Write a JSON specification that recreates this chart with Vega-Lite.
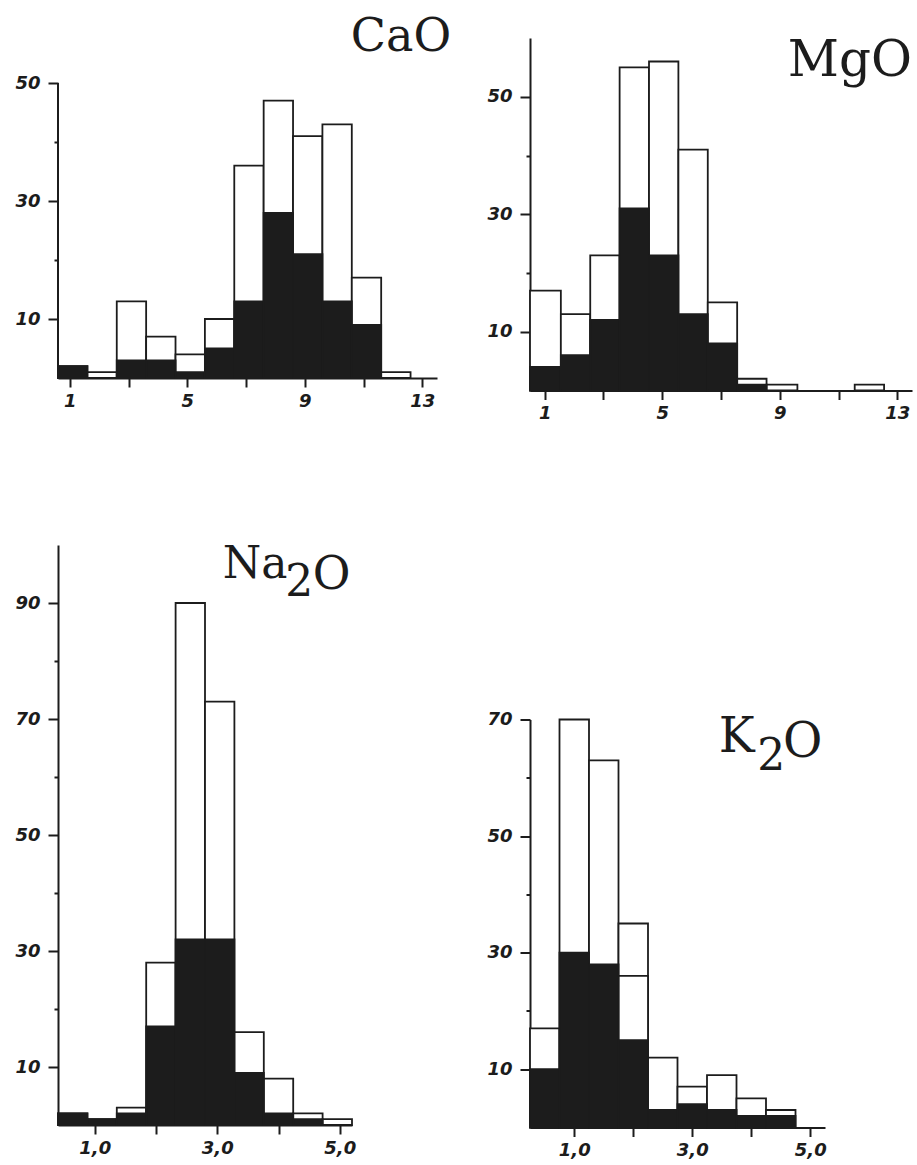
{
  "$schema": "https://vega.github.io/schema/vega-lite/v6.json",
  "background": "white",
  "padding": {"left": 14, "top": 13, "right": 5, "bottom": 5},
  "datasets": {
    "cao": [
      {"lo": 0.6, "hi": 1.6, "n": 2, "part": "all"},
      {"lo": 1.6, "hi": 2.6, "n": 1, "part": "all"},
      {"lo": 2.6, "hi": 3.6, "n": 13, "part": "all"},
      {"lo": 3.6, "hi": 4.6, "n": 7, "part": "all"},
      {"lo": 4.6, "hi": 5.6, "n": 4, "part": "all"},
      {"lo": 5.6, "hi": 6.6, "n": 10, "part": "all"},
      {"lo": 6.6, "hi": 7.6, "n": 36, "part": "all"},
      {"lo": 7.6, "hi": 8.6, "n": 47, "part": "all"},
      {"lo": 8.6, "hi": 9.6, "n": 41, "part": "all"},
      {"lo": 9.6, "hi": 10.6, "n": 43, "part": "all"},
      {"lo": 10.6, "hi": 11.6, "n": 17, "part": "all"},
      {"lo": 11.6, "hi": 12.6, "n": 1, "part": "all"},
      {"lo": 0.6, "hi": 1.6, "n": 2, "part": "black"},
      {"lo": 2.6, "hi": 3.6, "n": 3, "part": "black"},
      {"lo": 3.6, "hi": 4.6, "n": 3, "part": "black"},
      {"lo": 4.6, "hi": 5.6, "n": 1, "part": "black"},
      {"lo": 5.6, "hi": 6.6, "n": 5, "part": "black"},
      {"lo": 6.6, "hi": 7.6, "n": 13, "part": "black"},
      {"lo": 7.6, "hi": 8.6, "n": 28, "part": "black"},
      {"lo": 8.6, "hi": 9.6, "n": 21, "part": "black"},
      {"lo": 9.6, "hi": 10.6, "n": 13, "part": "black"},
      {"lo": 10.6, "hi": 11.6, "n": 9, "part": "black"}
    ],
    "mgo": [
      {"lo": 0.5, "hi": 1.55, "n": 17, "part": "all"},
      {"lo": 1.55, "hi": 2.55, "n": 13, "part": "all"},
      {"lo": 2.55, "hi": 3.55, "n": 23, "part": "all"},
      {"lo": 3.55, "hi": 4.55, "n": 55, "part": "all"},
      {"lo": 4.55, "hi": 5.55, "n": 56, "part": "all"},
      {"lo": 5.55, "hi": 6.55, "n": 41, "part": "all"},
      {"lo": 6.55, "hi": 7.55, "n": 15, "part": "all"},
      {"lo": 7.55, "hi": 8.55, "n": 2, "part": "all"},
      {"lo": 8.55, "hi": 9.6, "n": 1, "part": "all"},
      {"lo": 11.55, "hi": 12.55, "n": 1, "part": "all"},
      {"lo": 0.5, "hi": 1.55, "n": 4, "part": "black"},
      {"lo": 1.55, "hi": 2.55, "n": 6, "part": "black"},
      {"lo": 2.55, "hi": 3.55, "n": 12, "part": "black"},
      {"lo": 3.55, "hi": 4.55, "n": 31, "part": "black"},
      {"lo": 4.55, "hi": 5.55, "n": 23, "part": "black"},
      {"lo": 5.55, "hi": 6.55, "n": 13, "part": "black"},
      {"lo": 6.55, "hi": 7.55, "n": 8, "part": "black"},
      {"lo": 7.55, "hi": 8.55, "n": 1, "part": "black"}
    ],
    "na2o": [
      {"lo": 0.4, "hi": 0.88, "n": 2, "part": "all"},
      {"lo": 0.88, "hi": 1.36, "n": 1, "part": "all"},
      {"lo": 1.36, "hi": 1.84, "n": 3, "part": "all"},
      {"lo": 1.84, "hi": 2.32, "n": 28, "part": "all"},
      {"lo": 2.32, "hi": 2.8, "n": 90, "part": "all"},
      {"lo": 2.8, "hi": 3.28, "n": 73, "part": "all"},
      {"lo": 3.28, "hi": 3.76, "n": 16, "part": "all"},
      {"lo": 3.76, "hi": 4.24, "n": 8, "part": "all"},
      {"lo": 4.24, "hi": 4.72, "n": 2, "part": "all"},
      {"lo": 4.72, "hi": 5.2, "n": 1, "part": "all"},
      {"lo": 0.4, "hi": 0.88, "n": 2, "part": "black"},
      {"lo": 0.88, "hi": 1.36, "n": 1, "part": "black"},
      {"lo": 1.36, "hi": 1.84, "n": 2, "part": "black"},
      {"lo": 1.84, "hi": 2.32, "n": 17, "part": "black"},
      {"lo": 2.32, "hi": 2.8, "n": 32, "part": "black"},
      {"lo": 2.8, "hi": 3.28, "n": 32, "part": "black"},
      {"lo": 3.28, "hi": 3.76, "n": 9, "part": "black"},
      {"lo": 3.76, "hi": 4.24, "n": 2, "part": "black"},
      {"lo": 4.24, "hi": 4.72, "n": 1, "part": "black"}
    ],
    "k2o": [
      {"lo": 0.25, "hi": 0.75, "n": 17, "part": "all"},
      {"lo": 0.75, "hi": 1.25, "n": 70, "part": "all"},
      {"lo": 1.25, "hi": 1.75, "n": 63, "part": "all"},
      {"lo": 1.75, "hi": 2.25, "n": 35, "part": "all"},
      {"lo": 2.25, "hi": 2.75, "n": 12, "part": "all"},
      {"lo": 2.75, "hi": 3.25, "n": 7, "part": "all"},
      {"lo": 3.25, "hi": 3.75, "n": 9, "part": "all"},
      {"lo": 3.75, "hi": 4.25, "n": 5, "part": "all"},
      {"lo": 4.25, "hi": 4.75, "n": 3, "part": "all"},
      {"lo": 1.75, "hi": 2.25, "n": 26, "part": "inner"},
      {"lo": 0.25, "hi": 0.75, "n": 10, "part": "black"},
      {"lo": 0.75, "hi": 1.25, "n": 30, "part": "black"},
      {"lo": 1.25, "hi": 1.75, "n": 28, "part": "black"},
      {"lo": 1.75, "hi": 2.25, "n": 15, "part": "black"},
      {"lo": 2.25, "hi": 2.75, "n": 3, "part": "black"},
      {"lo": 2.75, "hi": 3.25, "n": 4, "part": "black"},
      {"lo": 3.25, "hi": 3.75, "n": 3, "part": "black"},
      {"lo": 3.75, "hi": 4.25, "n": 2, "part": "black"},
      {"lo": 4.25, "hi": 4.75, "n": 2, "part": "black"}
    ]
  },
  "hconcat": [
    {
      "spacing": 133,
      "vconcat": [
        {
          "width": 379,
          "height": 340,
          "layer": [
            {
              "data": {"name": "cao"},
              "mark": {"type": "rect", "stroke": "#1c1c1c", "strokeWidth": 1.8},
              "encoding": {
                "x": {"field": "lo", "type": "quantitative", "scale": {"domain": [0.6, 13.5], "nice": false, "zero": false},
                  "axis": {"title": null, "values": [1, 3, 5, 7, 9, 11, 13], "labelExpr": "datum.value % 4 == 1 ? datum.label : ''", "tickSize": 9, "labelPadding": 5}},
                "x2": {"field": "hi"},
                "y": {"field": "n", "type": "quantitative", "scale": {"domain": [0, 57.63], "nice": false},
                  "axis": {"title": null, "domain": false, "values": [10, 20, 30, 40, 50], "labelExpr": "datum.value % 20 == 10 ? datum.label : ''", "tickSize": {"condition": {"test": "datum.value % 20 == 0", "value": 4}, "value": 10}, "labelPadding": 8}},
                "y2": {"datum": 0},
                "fill": {"field": "part", "type": "nominal", "scale": {"domain": ["all", "inner", "black"], "range": ["#ffffff", "#ffffff", "#1c1c1c"]}, "legend": null}
              }
            },
            {
              "data": {"values": [{}]},
              "mark": {"type": "rule", "strokeWidth": 2, "color": "#1c1c1c"},
              "encoding": {
                "x": {"datum": 0.6, "type": "quantitative", "scale": {"domain": [0.6, 13.5], "nice": false, "zero": false}},
                "y": {"datum": 0, "type": "quantitative", "scale": {"domain": [0, 57.63], "nice": false}},
                "y2": {"datum": 50}
              }
            },
            {
              "data": {"values": [{}]},
              "mark": {"type": "text", "text": "CaO", "font": "DejaVu Serif", "fontSize": 46, "align": "right", "baseline": "alphabetic", "color": "#1c1c1c"},
              "encoding": {
                "x": {"datum": 13.98, "type": "quantitative", "scale": {"domain": [0.6, 13.5], "nice": false, "zero": false}},
                "y": {"datum": 55.43, "type": "quantitative", "scale": {"domain": [0, 57.63], "nice": false}}
              }
            }
          ]
        },
        {
          "width": 294,
          "height": 580,
          "layer": [
            {
              "data": {"name": "na2o"},
              "mark": {"type": "rect", "stroke": "#1c1c1c", "strokeWidth": 1.8},
              "encoding": {
                "x": {"field": "lo", "type": "quantitative", "scale": {"domain": [0.4, 5.2], "nice": false, "zero": false},
                  "axis": {"title": null, "values": [1, 2, 3, 4, 5], "labelExpr": "datum.value % 2 == 1 ? replace(format(datum.value, '.1f'), '.', ',') : ''", "tickSize": 9, "labelPadding": 5}},
                "x2": {"field": "hi"},
                "y": {"field": "n", "type": "quantitative", "scale": {"domain": [0, 100], "nice": false},
                  "axis": {"title": null, "values": [10, 20, 30, 40, 50, 60, 70, 80, 90], "labelExpr": "datum.value % 20 == 10 ? datum.label : ''", "tickSize": {"condition": {"test": "datum.value % 20 == 0", "value": 4}, "value": 10}, "labelPadding": 8}},
                "y2": {"datum": 0},
                "fill": {"field": "part", "type": "nominal", "scale": {"domain": ["all", "inner", "black"], "range": ["#ffffff", "#ffffff", "#1c1c1c"]}, "legend": null}
              }
            },
            {
              "data": {"values": [{}]},
              "mark": {"type": "text", "text": "Na", "font": "DejaVu Serif", "fontSize": 44, "align": "left", "baseline": "alphabetic", "color": "#1c1c1c"},
              "encoding": {
                "x": {"datum": 3.09, "type": "quantitative", "scale": {"domain": [0.4, 5.2], "nice": false, "zero": false}},
                "y": {"datum": 94.3, "type": "quantitative", "scale": {"domain": [0, 100], "nice": false}}
              }
            },
            {
              "data": {"values": [{}]},
              "mark": {"type": "text", "text": "2", "font": "DejaVu Serif", "fontSize": 44, "align": "left", "baseline": "alphabetic", "color": "#1c1c1c"},
              "encoding": {
                "x": {"datum": 4.11, "type": "quantitative", "scale": {"domain": [0.4, 5.2], "nice": false, "zero": false}},
                "y": {"datum": 91.2, "type": "quantitative", "scale": {"domain": [0, 100], "nice": false}}
              }
            },
            {
              "data": {"values": [{}]},
              "mark": {"type": "text", "text": "O", "font": "DejaVu Serif", "fontSize": 46, "align": "left", "baseline": "alphabetic", "color": "#1c1c1c"},
              "encoding": {
                "x": {"datum": 4.56, "type": "quantitative", "scale": {"domain": [0.4, 5.2], "nice": false, "zero": false}},
                "y": {"datum": 92.4, "type": "quantitative", "scale": {"domain": [0, 100], "nice": false}}
              }
            }
          ]
        }
      ]
    },
    {
      "spacing": 287.5,
      "vconcat": [
        {
          "width": 382,
          "height": 352.5,
          "layer": [
            {
              "data": {"name": "mgo"},
              "mark": {"type": "rect", "stroke": "#1c1c1c", "strokeWidth": 1.8},
              "encoding": {
                "x": {"field": "lo", "type": "quantitative", "scale": {"domain": [0.5, 13.5], "nice": false, "zero": false},
                  "axis": {"title": null, "values": [1, 3, 5, 7, 9, 11, 13], "labelExpr": "datum.value % 4 == 1 ? datum.label : ''", "tickSize": 9, "labelPadding": 5}},
                "x2": {"field": "hi"},
                "y": {"field": "n", "type": "quantitative", "scale": {"domain": [0, 60], "nice": false},
                  "axis": {"title": null, "values": [10, 20, 30, 40, 50], "labelExpr": "datum.value % 20 == 10 ? datum.label : ''", "tickSize": {"condition": {"test": "datum.value % 20 == 0", "value": 4}, "value": 10}, "labelPadding": 8}},
                "y2": {"datum": 0},
                "fill": {"field": "part", "type": "nominal", "scale": {"domain": ["all", "inner", "black"], "range": ["#ffffff", "#ffffff", "#1c1c1c"]}, "legend": null}
              }
            },
            {
              "data": {"values": [{}]},
              "mark": {"type": "text", "text": "MgO", "font": "DejaVu Serif", "fontSize": 50, "align": "right", "baseline": "alphabetic", "color": "#1c1c1c"},
              "encoding": {
                "x": {"datum": 13.5, "type": "quantitative", "scale": {"domain": [0.5, 13.5], "nice": false, "zero": false}},
                "y": {"datum": 53.5, "type": "quantitative", "scale": {"domain": [0, 60], "nice": false}}
              }
            }
          ]
        },
        {
          "width": 295,
          "height": 408,
          "layer": [
            {
              "data": {"name": "k2o"},
              "mark": {"type": "rect", "stroke": "#1c1c1c", "strokeWidth": 1.8},
              "encoding": {
                "x": {"field": "lo", "type": "quantitative", "scale": {"domain": [0.25, 5.25], "nice": false, "zero": false},
                  "axis": {"title": null, "values": [1, 2, 3, 4, 5], "labelExpr": "datum.value % 2 == 1 ? replace(format(datum.value, '.1f'), '.', ',') : ''", "tickSize": 9, "labelPadding": 5}},
                "x2": {"field": "hi"},
                "y": {"field": "n", "type": "quantitative", "scale": {"domain": [0, 70], "nice": false},
                  "axis": {"title": null, "values": [10, 20, 30, 40, 50, 60, 70], "labelExpr": "datum.value % 20 == 10 ? datum.label : ''", "tickSize": {"condition": {"test": "datum.value % 20 == 0", "value": 4}, "value": 10}, "labelPadding": 8}},
                "y2": {"datum": 0},
                "fill": {"field": "part", "type": "nominal", "scale": {"domain": ["all", "inner", "black"], "range": ["#ffffff", "#ffffff", "#1c1c1c"]}, "legend": null}
              }
            },
            {
              "data": {"values": [{}]},
              "mark": {"type": "text", "text": "K", "font": "DejaVu Serif", "fontSize": 48, "align": "left", "baseline": "alphabetic", "color": "#1c1c1c"},
              "encoding": {
                "x": {"datum": 3.45, "type": "quantitative", "scale": {"domain": [0.25, 5.25], "nice": false, "zero": false}},
                "y": {"datum": 64.4, "type": "quantitative", "scale": {"domain": [0, 70], "nice": false}}
              }
            },
            {
              "data": {"values": [{}]},
              "mark": {"type": "text", "text": "2", "font": "DejaVu Serif", "fontSize": 44, "align": "left", "baseline": "alphabetic", "color": "#1c1c1c"},
              "encoding": {
                "x": {"datum": 4.1, "type": "quantitative", "scale": {"domain": [0.25, 5.25], "nice": false, "zero": false}},
                "y": {"datum": 61.3, "type": "quantitative", "scale": {"domain": [0, 70], "nice": false}}
              }
            },
            {
              "data": {"values": [{}]},
              "mark": {"type": "text", "text": "O", "font": "DejaVu Serif", "fontSize": 48, "align": "left", "baseline": "alphabetic", "color": "#1c1c1c"},
              "encoding": {
                "x": {"datum": 4.54, "type": "quantitative", "scale": {"domain": [0.25, 5.25], "nice": false, "zero": false}},
                "y": {"datum": 63.6, "type": "quantitative", "scale": {"domain": [0, 70], "nice": false}}
              }
            }
          ]
        }
      ]
    }
  ],
  "spacing": 34,
  "config": {
    "view": {"stroke": null},
    "axis": {
      "grid": false,
      "domainColor": "#1c1c1c",
      "domainWidth": 2,
      "tickColor": "#1c1c1c",
      "tickWidth": 2,
      "labelFont": "DejaVu Sans",
      "labelFontStyle": "italic",
      "labelFontWeight": "bold",
      "labelFontSize": 18,
      "labelColor": "#1c1c1c",
      "labelOverlap": false,
      "labelFlush": false
    }
  }
}
